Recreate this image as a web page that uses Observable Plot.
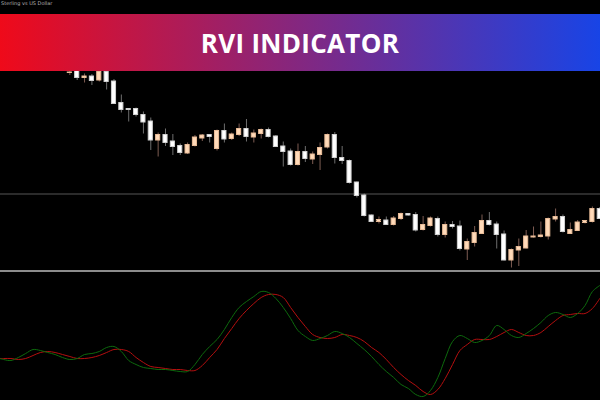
<!DOCTYPE html>
<html>
<head>
<meta charset="utf-8">
<script src="https://cdn.jsdelivr.net/npm/d3@7"></script>
<script src="https://cdn.jsdelivr.net/npm/@observablehq/plot@0.6"></script>
<style>
  html, body { margin: 0; padding: 0; background: #000; }
  #wrap { position: relative; width: 600px; height: 400px; overflow: hidden; background: #000; }
  #sep { height: 2px; background: #8c8c8c; }
  #banner {
    position: absolute; left: 0; top: 14px; width: 600px; height: 57px;
    background: linear-gradient(to right, #ef0a1a, #1844e6);
    display: flex; align-items: center; justify-content: center;
    color: #fff; font-family: "Open Sans", sans-serif; font-weight: 700; font-size: 26px; letter-spacing: 0.3px;
  }
  #sym {
    position: absolute; left: 1px; top: 0px; color: #b0b0b0;
    font-family: "DejaVu Sans", sans-serif; font-size: 5px; white-space: nowrap;
  }
  svg { display: block; }
</style>
</head>
<body>
<div id="wrap">
  <div id="price"></div>
  <div id="sep"></div>
  <div id="rvi"></div>
  <div id="banner">RVI INDICATOR</div>
  <div id="sym">Sterling vs US Dollar</div>
</div>
<script>
// ---- Price candles (GBP/USD) ----
const candleIndex = d3.range(0, 73);
const open  = [1.3255,1.3260,1.3245,1.3248,1.3240,1.3257,1.3238,1.3195,1.3183,1.3183,1.3171,1.3158,1.3120,1.3131,1.3118,1.3109,1.3094,1.3109,1.3124,1.3131,1.3103,1.3139,1.3123,1.3131,1.3143,1.3126,1.3133,1.3141,1.3128,1.3108,1.3098,1.3071,1.3097,1.3082,1.3091,1.3106,1.3131,1.3085,1.3079,1.3036,1.3010,1.2970,1.2957,1.2960,1.2951,1.2963,1.2973,1.2971,1.2941,1.2949,1.2963,1.2931,1.2951,1.2948,1.2902,1.2915,1.2933,1.2959,1.2952,1.2932,1.2880,1.2900,1.2904,1.2926,1.2927,1.2928,1.2962,1.2967,1.2933,1.2939,1.2955,1.2957,1.2983];
const high  = [1.3260,1.3264,1.3253,1.3252,1.3260,1.3260,1.3242,1.3211,1.3183,1.3185,1.3177,1.3165,1.3135,1.3143,1.3132,1.3113,1.3115,1.3130,1.3132,1.3132,1.3141,1.3153,1.3135,1.3153,1.3162,1.3141,1.3143,1.3145,1.3130,1.3117,1.3103,1.3113,1.3108,1.3097,1.3115,1.3133,1.3136,1.3108,1.3081,1.3037,1.3013,1.2971,1.2967,1.2967,1.2968,1.2975,1.2974,1.2976,1.2968,1.2967,1.2967,1.2957,1.2958,1.2959,1.2923,1.2948,1.2971,1.2976,1.2957,1.2939,1.2903,1.2923,1.2940,1.2947,1.2957,1.2965,1.2983,1.2971,1.2955,1.2960,1.2960,1.2987,1.2986];
const low   = [1.3250,1.3240,1.3235,1.3230,1.3237,1.3221,1.3192,1.3175,1.3157,1.3167,1.3133,1.3100,1.3087,1.3108,1.3090,1.3090,1.3092,1.3107,1.3118,1.3115,1.3099,1.3115,1.3120,1.3128,1.3117,1.3115,1.3123,1.3125,1.3107,1.3067,1.3069,1.3069,1.3076,1.3072,1.3060,1.3103,1.3073,1.3072,1.3033,1.3005,1.2967,1.2956,1.2953,1.2950,1.2949,1.2960,1.2969,1.2937,1.2939,1.2947,1.2927,1.2925,1.2943,1.2899,1.2880,1.2907,1.2932,1.2949,1.2903,1.2879,1.2865,1.2868,1.2903,1.2925,1.2925,1.2921,1.2957,1.2935,1.2932,1.2938,1.2953,1.2955,1.2962];
const close = [1.3256,1.3245,1.3248,1.3239,1.3257,1.3237,1.3193,1.3181,1.3181,1.3171,1.3156,1.3120,1.3131,1.3115,1.3107,1.3095,1.3111,1.3126,1.3130,1.3127,1.3139,1.3122,1.3132,1.3143,1.3127,1.3134,1.3141,1.3127,1.3107,1.3097,1.3071,1.3097,1.3083,1.3092,1.3105,1.3131,1.3085,1.3079,1.3035,1.3009,1.2969,1.2957,1.2961,1.2951,1.2964,1.2973,1.2970,1.2940,1.2951,1.2964,1.2931,1.2951,1.2947,1.2903,1.2917,1.2935,1.2959,1.2951,1.2931,1.2880,1.2901,1.2907,1.2928,1.2928,1.2930,1.2963,1.2967,1.2937,1.2941,1.2956,1.2959,1.2983,1.2963];
const levelPrice = [1.3013];

// ---- RVI (main = green, signal = red) ----
const rviIndex = d3.range(-10, 73);
const rviMain = [-0.27,-0.29,-0.30,-0.27,-0.23,-0.19,-0.20,-0.22,-0.24,-0.27,
  -0.29,-0.28,-0.24,-0.23,-0.21,-0.17,-0.16,-0.21,-0.30,-0.34,-0.37,-0.38,-0.39,-0.39,-0.40,-0.41,-0.41,-0.34,-0.24,-0.16,
  -0.09,0.01,0.13,0.23,0.29,0.34,0.39,0.38,0.32,0.23,0.12,0.00,-0.06,-0.10,-0.08,-0.05,-0.01,-0.03,-0.07,-0.13,
  -0.19,-0.26,-0.34,-0.41,-0.47,-0.54,-0.58,-0.64,-0.66,-0.60,-0.47,-0.28,-0.11,-0.05,-0.08,-0.12,-0.10,-0.05,0.05,0.01,
  -0.05,-0.07,-0.03,0.02,0.08,0.15,0.18,0.16,0.13,0.17,0.25,0.39,0.45];
const rviSignal = [-0.28,-0.28,-0.28,-0.29,-0.28,-0.25,-0.22,-0.21,-0.22,-0.24,
  -0.26,-0.28,-0.28,-0.27,-0.25,-0.22,-0.19,-0.19,-0.21,-0.27,-0.32,-0.36,-0.37,-0.38,-0.39,-0.39,-0.40,-0.40,-0.35,-0.27,
  -0.19,-0.08,0.02,0.12,0.20,0.27,0.33,0.36,0.36,0.33,0.23,0.13,0.04,-0.04,-0.07,-0.08,-0.07,-0.04,-0.05,-0.07,
  -0.11,-0.17,-0.22,-0.29,-0.37,-0.44,-0.50,-0.55,-0.61,-0.64,-0.59,-0.48,-0.34,-0.20,-0.14,-0.09,-0.09,-0.09,-0.06,-0.02,
  0.01,-0.02,-0.05,-0.05,-0.02,0.04,0.10,0.15,0.16,0.17,0.17,0.22,0.32];

const candles = candleIndex.map((i, k) => ({
  i, open: open[k], high: high[k], low: low[k], close: close[k],
  up: close[k] >= open[k]
}));
const rvi = rviIndex.map((i, k) => ({i, main: rviMain[k], signal: rviSignal[k]}));

const xDomain = [-9.42, 72.1];
const halfBody = 0.28;
const PEACH = "#ffdab9", PEACH_EDGE = "#e9bc98", WHITE = "#ffffff", WHITE_EDGE = "#d0d0d0";

const pricePlot = Plot.plot({
  width: 600, height: 270,
  margin: 0,
  style: {background: "#000"},
  x: {domain: xDomain, axis: null},
  y: {domain: [1.2860, 1.3400], axis: null},
  marks: [
    Plot.ruleY(levelPrice, {stroke: "#3a3a3a", strokeWidth: 1.6}),
    Plot.ruleX(candles, {x: "i", y1: "low", y2: "high",
      stroke: d => d.up ? "#7d5c52" : "#6e6e6e", strokeWidth: 1}),
    Plot.rect(candles, {
      x1: d => d.i - halfBody, x2: d => d.i + halfBody,
      y1: d => Math.min(d.open, d.close), y2: d => Math.max(d.open, d.close),
      fill: d => d.up ? PEACH : WHITE,
      stroke: d => d.up ? PEACH_EDGE : WHITE_EDGE, strokeWidth: 1
    })
  ]
});
document.getElementById("price").appendChild(pricePlot);

const rviPlot = Plot.plot({
  width: 600, height: 128,
  margin: 0,
  style: {background: "#000"},
  x: {domain: xDomain, axis: null},
  y: {domain: [-0.70, 0.58], axis: null},
  marks: [
    Plot.line(rvi, {x: "i", y: "signal", stroke: "#b40f0f", strokeWidth: 1, curve: "catmull-rom", clip: true}),
    Plot.line(rvi, {x: "i", y: "main", stroke: "#0d6a0d", strokeWidth: 1, curve: "catmull-rom", clip: true})
  ]
});
document.getElementById("rvi").appendChild(rviPlot);
</script>
</body>
</html>
